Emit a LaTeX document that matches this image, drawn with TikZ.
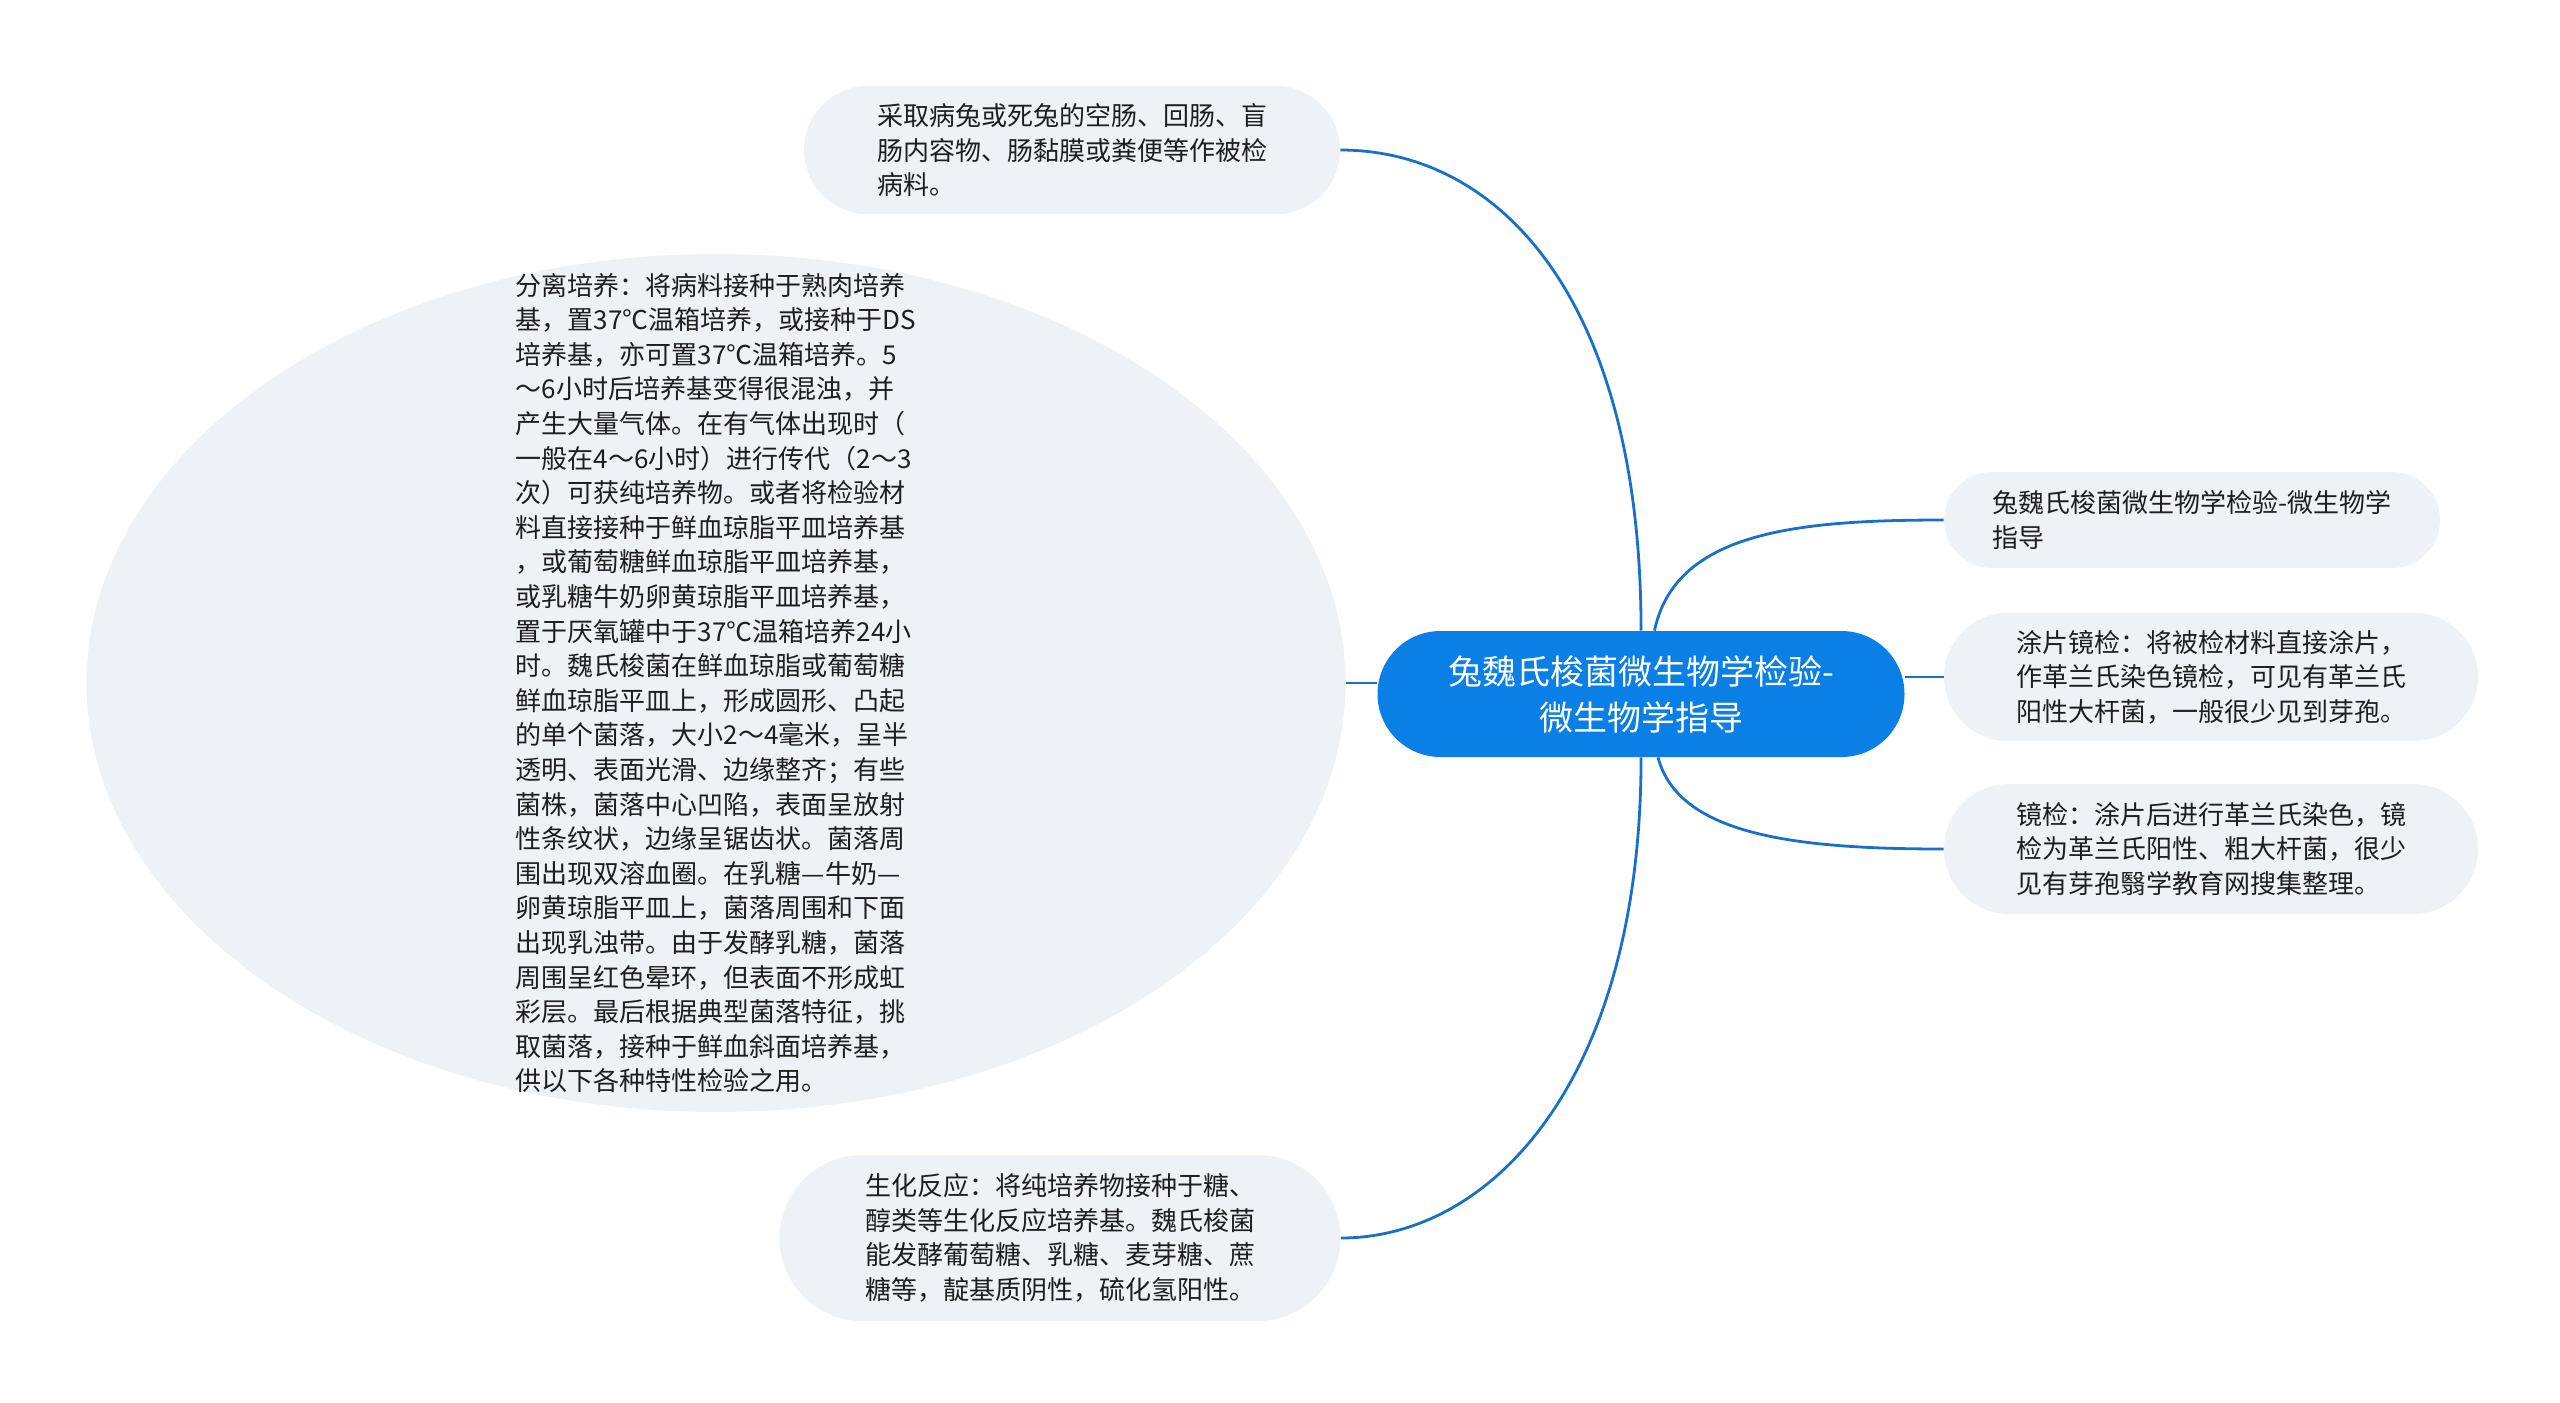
\documentclass[tikz,border=0pt]{standalone}
\usepackage{fontspec}
\newfontfamily\cjk{Noto Sans CJK SC}
\usetikzlibrary{shapes.misc,shapes.geometric}
\definecolor{leafgray}{HTML}{EEF1F5}
\definecolor{rootblue}{HTML}{0A7FE6}
\definecolor{linkblue}{HTML}{1A70C6}
\definecolor{inkdark}{HTML}{1E1E1E}

\begin{document}
\begin{tikzpicture}[x=0.5pt,y=-0.5pt]
\useasboundingbox (0,0) rectangle (2560,1403);

% central topic
\node[rounded rectangle,fill=rootblue,text=white,align=center,inner sep=0pt,
      minimum width=263.5pt,minimum height=63pt,
      font=\cjk\fontsize{17}{23}\selectfont] (topic) at (1641,694)
      {兔魏氏梭菌微生物学检验-\\微生物学指导};

% big oval on the left
\node[ellipse,fill=leafgray,inner sep=0pt,minimum width=629.5pt,minimum height=429pt] (culture) at (716,683) {};
\node[align=left,text=inkdark,inner sep=0pt,font=\cjk\fontsize{13}{17.3}\selectfont] (culturetext) at (culture.center)
  {分离培养：将病料接种于熟肉培养\\
   基，置37℃温箱培养，或接种于DS\\
   培养基，亦可置37℃温箱培养。5\\
   ～6小时后培养基变得很混浊，并\\
   产生大量气体。在有气体出现时（\\
   一般在4～6小时）进行传代（2～3\\
   次）可获纯培养物。或者将检验材\\
   料直接接种于鲜血琼脂平皿培养基\\
   ，或葡萄糖鲜血琼脂平皿培养基，\\
   或乳糖牛奶卵黄琼脂平皿培养基，\\
   置于厌氧罐中于37℃温箱培养24小\\
   时。魏氏梭菌在鲜血琼脂或葡萄糖\\
   鲜血琼脂平皿上，形成圆形、凸起\\
   的单个菌落，大小2～4毫米，呈半\\
   透明、表面光滑、边缘整齐；有些\\
   菌株，菌落中心凹陷，表面呈放射\\
   性条纹状，边缘呈锯齿状。菌落周\\
   围出现双溶血圈。在乳糖—牛奶—\\
   卵黄琼脂平皿上，菌落周围和下面\\
   出现乳浊带。由于发酵乳糖，菌落\\
   周围呈红色晕环，但表面不形成虹\\
   彩层。最后根据典型菌落特征，挑\\
   取菌落，接种于鲜血斜面培养基，\\
   供以下各种特性检验之用。};

\begin{scope}[every node/.style={rounded rectangle,fill=leafgray,text=inkdark,align=left,inner sep=0pt,
              font=\cjk\fontsize{13}{17.3}\selectfont}]
    \node[minimum width=268pt,minimum height=64pt] (sample) at (1072,150)
      {采取病兔或死兔的空肠、回肠、盲\\肠内容物、肠黏膜或粪便等作被检\\病料。};
    \node[minimum width=280.5pt,minimum height=83pt] (biochem) at (1060,1238)
      {生化反应：将纯培养物接种于糖、\\醇类等生化反应培养基。魏氏梭菌\\能发酵葡萄糖、乳糖、麦芽糖、蔗\\糖等，靛基质阴性，硫化氢阳性。};
    \node[minimum width=248pt,minimum height=48pt] (guide) at (2192,520)
      {兔魏氏梭菌微生物学检验-微生物学\\指导};
    \node[minimum width=267pt,minimum height=64pt] (smear) at (2211,677)
      {涂片镜检：将被检材料直接涂片，\\作革兰氏染色镜检，可见有革兰氏\\阳性大杆菌，一般很少见到芽孢。};
    \node[minimum width=267pt,minimum height=65pt] (stain) at (2211,849)
      {镜检：涂片后进行革兰氏染色，镜\\检为革兰氏阳性、粗大杆菌，很少\\见有芽孢翳学教育网搜集整理。};
\end{scope}

\begin{scope}[every edge/.style={draw=linkblue,line width=1.4pt}]
    \path (topic) edge[out=90,in=0,out distance=165pt,in distance=80pt] (sample);
    \path (culture.east) edge (culture.east -| topic.west);
    \path (topic) edge[out=-90,in=0,out distance=162pt,in distance=75pt] (biochem);
    \path (topic) edge[out=78,in=180,out distance=50pt,in distance=75pt] (guide);
    \path (topic.east |- smear.west) edge (smear.west);
    \path (topic) edge[out=-75,in=180,out distance=40pt,in distance=75pt] (stain);
\end{scope}
\end{tikzpicture}
\end{document}
